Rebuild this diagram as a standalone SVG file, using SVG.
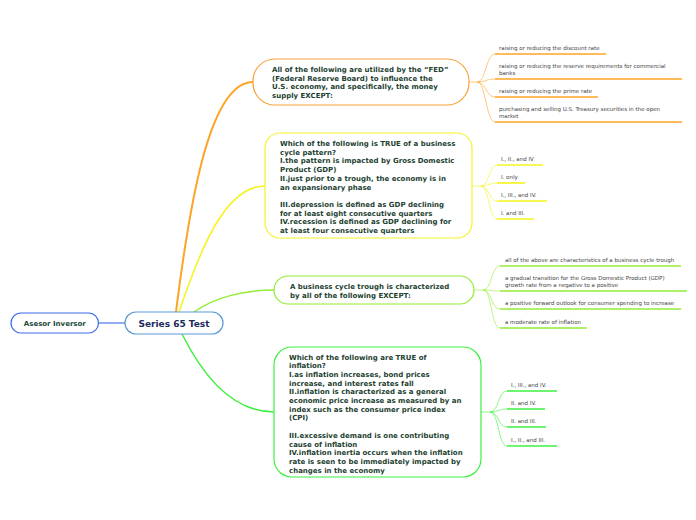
<svg xmlns="http://www.w3.org/2000/svg" width="696" height="520" viewBox="0 0 696 520">
<style>
.bg{fill:#ffffff}
.nt{font-family:"DejaVu Sans",Verdana,sans-serif;font-weight:bold;font-size:7px;fill:#1d3f31}
.lt{font-family:"DejaVu Sans",Verdana,sans-serif;font-size:5.5px;fill:#444444}
.br{fill:none;stroke-linecap:round}
.fan{fill:none;stroke-width:1;stroke-opacity:0.6}
.ul{stroke-width:1.6}
.o{stroke:#ffa326}
.y{stroke:#f4f41c}
.lg{stroke:#93ec35}
.g{stroke:#3ef03e}
</style>
<rect class="bg" x="0" y="0" width="696" height="520"/>
<g id="connectors">
  <path d="M98.5,323 H125" stroke="#4a78e6" stroke-width="1.2" fill="none"/>
  <path class="br o" stroke-width="2" d="M176,312 C190,200 210,82 253,82"/>
  <path class="br y" stroke-width="1.5" d="M179,312 C200,250 225,186 265,186"/>
  <path class="br lg" stroke-width="1.5" d="M194,312 C215,297 245,290 274,290"/>
  <path class="br g" stroke-width="1.5" d="M182,334 C205,380 235,412 274,412"/>
  <g class="fan o">
    <path d="M469,82 H477 C486,82 486,54 495,54"/>
    <path d="M477,82 C486,82 486,79 495,79"/>
    <path d="M477,82 C486,82 486,97 495,97"/>
    <path d="M477,82 C486,82 486,122 495,122"/>
  </g>
  <g class="fan y">
    <path d="M472,186 H481 C489,186 489,165 497,165"/>
    <path d="M481,186 C489,186 489,183 497,183"/>
    <path d="M481,186 C489,186 489,201 497,201"/>
    <path d="M481,186 C489,186 489,219 497,219"/>
  </g>
  <g class="fan lg">
    <path d="M474,290 H483 C492,290 491,266 500,266"/>
    <path d="M483,290 C492,290 491,291 500,291"/>
    <path d="M483,290 C492,290 491,309 500,309"/>
    <path d="M483,290 C492,290 491,328 500,328"/>
  </g>
  <g class="fan g">
    <path d="M481,412 H490 C499,412 498,391 507,391"/>
    <path d="M490,412 C499,412 498,409 507,409"/>
    <path d="M490,412 C499,412 498,427 507,427"/>
    <path d="M490,412 C499,412 498,446 507,446"/>
  </g>
</g>
<g id="root">
  <rect x="125" y="312" width="98" height="22" rx="11" fill="#ffffff" stroke="#5b9bd5" stroke-width="1.2"/>
  <text x="174" y="327" text-anchor="middle" font-family="DejaVu Sans,Verdana,sans-serif" font-weight="bold" font-size="9px" fill="#1c2a5e">Series 65 Test</text>
</g>
<g id="asesor">
  <rect x="11" y="313" width="87.5" height="20" rx="10" fill="#ffffff" stroke="#3a6ae8" stroke-width="1.2"/>
  <text x="54.8" y="326" text-anchor="middle" font-family="DejaVu Sans,Verdana,sans-serif" font-weight="bold" font-size="7px" fill="#1b4a3a">Asesor Inversor</text>
</g>
<g id="q1">
  <rect x="253" y="59" width="216" height="46" rx="22" fill="#ffffff" stroke="#f9a23b" stroke-width="1.2"/>
  <text class="nt"><tspan x="272" y="72">All of the following are utilized by the “FED”</tspan><tspan x="272" y="80.7">(Federal Reserve Board) to influence the</tspan><tspan x="272" y="89.4">U.S. economy, and specifically, the money</tspan><tspan x="272" y="98.1">supply EXCEPT:</tspan></text>
</g>
<g id="q1-leaves">
  <line class="ul o" x1="495" y1="54" x2="606" y2="54"/>
  <text class="lt" x="499" y="49.5">raising or reducing the discount rate</text>
  <line class="ul o" x1="495" y1="79" x2="682" y2="79"/>
  <text class="lt"><tspan x="499" y="68">raising or reducing the reserve requirements for commercial</tspan><tspan x="499" y="74.5">banks</tspan></text>
  <line class="ul o" x1="495" y1="97" x2="598" y2="97"/>
  <text class="lt" x="499" y="92.5">raising or reducing the prime rate</text>
  <line class="ul o" x1="495" y1="122" x2="682" y2="122"/>
  <text class="lt"><tspan x="499" y="111">purchasing and selling U.S. Treasury securities in the open</tspan><tspan x="499" y="117.5">market</tspan></text>
</g>
<g id="q2">
  <rect x="265" y="133" width="207" height="105" rx="15" fill="#ffffff" stroke="#f4f42a" stroke-width="1.2"/>
  <text class="nt"><tspan x="280" y="146">Which of the following is TRUE of a business</tspan><tspan x="280" y="154.7">cycle pattern?</tspan><tspan x="280" y="163.4">I.the pattern is impacted by Gross Domestic</tspan><tspan x="280" y="172.1">Product (GDP)</tspan><tspan x="280" y="180.8">II.just prior to a trough, the economy is in</tspan><tspan x="280" y="189.5">an expansionary phase</tspan><tspan x="280" y="206.9">III.depression is defined as GDP declining</tspan><tspan x="280" y="215.6">for at least eight consecutive quarters</tspan><tspan x="280" y="224.3">IV.recession is defined as GDP declining for</tspan><tspan x="280" y="233">at least four consecutive quarters</tspan></text>
</g>
<g id="q2-leaves">
  <line class="ul y" x1="497" y1="165" x2="543" y2="165"/>
  <text class="lt" x="501" y="160.5">I., II., and IV</text>
  <line class="ul y" x1="497" y1="183" x2="525" y2="183"/>
  <text class="lt" x="501" y="178.5">I. only</text>
  <line class="ul y" x1="497" y1="201" x2="547" y2="201"/>
  <text class="lt" x="501" y="196.5">I., III., and IV.</text>
  <line class="ul y" x1="497" y1="219" x2="534" y2="219"/>
  <text class="lt" x="501" y="214.5">I. and III.</text>
</g>
<g id="q3">
  <rect x="274" y="276" width="200" height="28" rx="14" fill="#ffffff" stroke="#93ec35" stroke-width="1.2"/>
  <text class="nt"><tspan x="290" y="289">A business cycle trough is characterized</tspan><tspan x="290" y="297.7">by all of the following EXCEPT:</tspan></text>
</g>
<g id="q3-leaves">
  <line class="ul lg" x1="500" y1="266" x2="681" y2="266"/>
  <text class="lt" x="505" y="261.5">all of the above are characteristics of a business cycle trough</text>
  <line class="ul lg" x1="500" y1="291" x2="687" y2="291"/>
  <text class="lt"><tspan x="505" y="280">a gradual transition for the Gross Domestic Product (GDP)</tspan><tspan x="505" y="286.5">growth rate from a negative to a positive</tspan></text>
  <line class="ul lg" x1="500" y1="309" x2="681" y2="309"/>
  <text class="lt" x="505" y="304.5">a positive forward outlook for consumer spending to increase</text>
  <line class="ul lg" x1="500" y1="328" x2="587" y2="328"/>
  <text class="lt" x="505" y="323.5">a moderate rate of inflation</text>
</g>
<g id="q4">
  <rect x="274" y="347" width="207" height="130" rx="18" fill="#ffffff" stroke="#3ef03e" stroke-width="1.2"/>
  <text class="nt"><tspan x="289" y="359.5">Which of the following are TRUE of</tspan><tspan x="289" y="368.2">inflation?</tspan><tspan x="289" y="376.9">I.as inflation increases, bond prices</tspan><tspan x="289" y="385.6">increase, and interest rates fall</tspan><tspan x="289" y="394.3">II.inflation is characterized as a general</tspan><tspan x="289" y="403">economic price increase as measured by an</tspan><tspan x="289" y="411.7">index such as the consumer price index</tspan><tspan x="289" y="420.4">(CPI)</tspan><tspan x="289" y="437.8">III.excessive demand is one contributing</tspan><tspan x="289" y="446.5">cause of inflation</tspan><tspan x="289" y="455.2">IV.inflation inertia occurs when the inflation</tspan><tspan x="289" y="463.9">rate is seen to be immediately impacted by</tspan><tspan x="289" y="472.6">changes in the economy</tspan></text>
</g>
<g id="q4-leaves">
  <line class="ul g" x1="507" y1="391" x2="557" y2="391"/>
  <text class="lt" x="511" y="386.5">I., III., and IV.</text>
  <line class="ul g" x1="507" y1="409" x2="545" y2="409"/>
  <text class="lt" x="511" y="404.5">II. and IV.</text>
  <line class="ul g" x1="507" y1="427" x2="546" y2="427"/>
  <text class="lt" x="511" y="422.5">II. and III.</text>
  <line class="ul g" x1="507" y1="446" x2="557" y2="446"/>
  <text class="lt" x="511" y="441.5">I., II., and III.</text>
</g>
</svg>
